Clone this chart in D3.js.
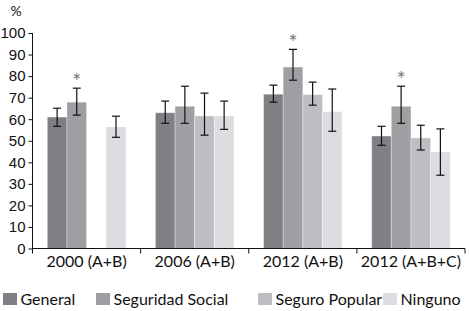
<!DOCTYPE html>
<html>
<head>
<meta charset="utf-8">
<script src="https://cdn.jsdelivr.net/npm/d3@7"></script>
<style>
  body { margin: 0; background: #fff; }
  svg { display: block; font-family: "Lato", "Open Sans", sans-serif; }
</style>
</head>
<body>
<svg id="chart" width="469" height="311"></svg>
<script>
// Data
const categories = ["2000 (A+B)", "2006 (A+B)", "2012 (A+B)", "2012 (A+B+C)"];
const seriesNames = ["General", "Seguridad Social", "Seguro Popular", "Ninguno"];
const seriesColors = ["#808084", "#9e9fa3", "#bdbec1", "#dcdde0"];

// values per series, one per category (null = no bar)
const general = [61, 63, 71.6, 52.2];
const seguridadSocial = [67.9, 66, 84.2, 66];
const seguroPopular = [null, 61.5, 71.4, 51.3];
const ninguno = [56.4, 61.5, 63.5, 44.8];

// error bar limits
const generalLow = [56.7, 58.1, 67.9, 47.9];
const generalHigh = [65.1, 68.4, 75.8, 56.7];
const ssLow = [61.9, 58.1, 78.1, 58.1];
const ssHigh = [74.4, 75.3, 92.4, 75.3];
const spLow = [null, 52.6, 66.5, 45.7];
const spHigh = [null, 72.1, 77.2, 57.2];
const ningLow = [51.6, 55.3, 54.4, 34];
const ningHigh = [61.4, 68.4, 74, 55.5];

// significance markers: [category index, series index]
const starred = [[0, 1], [2, 1], [3, 1]];

const yTicks = [0, 10, 20, 30, 40, 50, 60, 70, 80, 90, 100];

const values = [general, seguridadSocial, seguroPopular, ninguno];
const lows = [generalLow, ssLow, spLow, ningLow];
const highs = [generalHigh, ssHigh, spHigh, ningHigh];

const rows = [];
categories.forEach((c, ci) => {
    seriesNames.forEach((s, si) => {
        if (values[si][ci] == null) return;
        rows.push({ cat: c, series: s, ci, si, v: values[si][ci], lo: lows[si][ci], hi: highs[si][ci] });
    });
});

const svg = d3.select("#chart");

const x0 = d3.scaleBand().domain(categories).range([32.5, 465]).padding(0);
const x1 = d3.scaleBand().domain(seriesNames).range([14.8, x0.bandwidth() - 14.8]).padding(0);
const y = d3.scaleLinear().domain([0, 100]).range([248.5, 33]);
const color = d3.scaleOrdinal().domain(seriesNames).range(seriesColors);

// Bars
svg.append("g")
    .selectAll("rect")
    .data(rows)
    .join("rect")
    .attr("x", d => x0(d.cat) + x1(d.series))
    .attr("y", d => y(d.v))
    .attr("width", x1.bandwidth())
    .attr("height", d => y(0) - y(d.v))
    .attr("fill", d => color(d.series))
    .attr("stroke", "#ffffff")
    .attr("stroke-opacity", 0.35)
    .attr("stroke-width", 1);

// Error bars
const err = svg.append("g")
    .attr("stroke", "#111")
    .attr("stroke-width", 1.2)
    .selectAll("g")
    .data(rows)
    .join("g")
    .attr("transform", d => `translate(${x0(d.cat) + x1(d.series) + x1.bandwidth() / 2},0)`);
err.append("line").attr("y1", d => y(d.lo)).attr("y2", d => y(d.hi));
err.append("line").attr("x1", -4).attr("x2", 4).attr("y1", d => y(d.hi)).attr("y2", d => y(d.hi));
err.append("line").attr("x1", -4).attr("x2", 4).attr("y1", d => y(d.lo)).attr("y2", d => y(d.lo));

// Asterisks
svg.append("g")
    .selectAll("text")
    .data(starred.map(([ci, si]) => rows.find(r => r.ci === ci && r.si === si)))
    .join("text")
    .attr("x", d => x0(d.cat) + x1(d.series) + x1.bandwidth() / 2)
    .attr("y", d => y(d.hi) + 1)
    .attr("text-anchor", "middle")
    .attr("fill", "#777")
    .style("font-size", "21px")
    .text("*");

// Y axis
const yAxis = svg.append("g")
    .attr("transform", "translate(32.5,0)")
    .call(d3.axisLeft(y).tickValues(yTicks).tickSize(4).tickPadding(3));
yAxis.select(".domain").attr("d", `M0,${y(100)}V${y(0) + 5}`).attr("stroke", "#111");
yAxis.selectAll(".tick line").attr("stroke", "#111");
yAxis.selectAll("text").attr("fill", "#111").style("font-size", "15px");

// X axis
const xAxis = svg.append("g").attr("transform", `translate(0,${y(0)})`);
xAxis.append("line").attr("x1", 32.5).attr("x2", 465).attr("stroke", "#111");
xAxis.selectAll("line.sep")
    .data(categories)
    .join("line")
    .attr("class", "sep")
    .attr("x1", d => x0(d) + x0.bandwidth())
    .attr("x2", d => x0(d) + x0.bandwidth())
    .attr("y2", 5)
    .attr("stroke", "#111");
xAxis.selectAll("text")
    .data(categories)
    .join("text")
    .attr("x", d => x0(d) + x0.bandwidth() / 2)
    .attr("y", 18.5)
    .attr("text-anchor", "middle")
    .attr("fill", "#111")
    .style("font-size", "16px")
    .text(d => d);

// "%" label
svg.append("text")
    .attr("x", 16)
    .attr("y", 15.5)
    .attr("text-anchor", "middle")
    .attr("fill", "#111")
    .style("font-size", "14px")
    .text("%");

// Legend
const legendX = [3, 96, 258, 383];
const legend = svg.append("g")
    .selectAll("g")
    .data(seriesNames)
    .join("g")
    .attr("transform", (d, i) => `translate(${legendX[i]},293)`);
legend.append("rect")
    .attr("width", 14)
    .attr("height", 12)
    .attr("fill", d => color(d));
legend.append("text")
    .attr("x", 17.5)
    .attr("y", 12)
    .attr("fill", "#111")
    .style("font-size", "16px")
    .text(d => d);
</script>
</body>
</html>
